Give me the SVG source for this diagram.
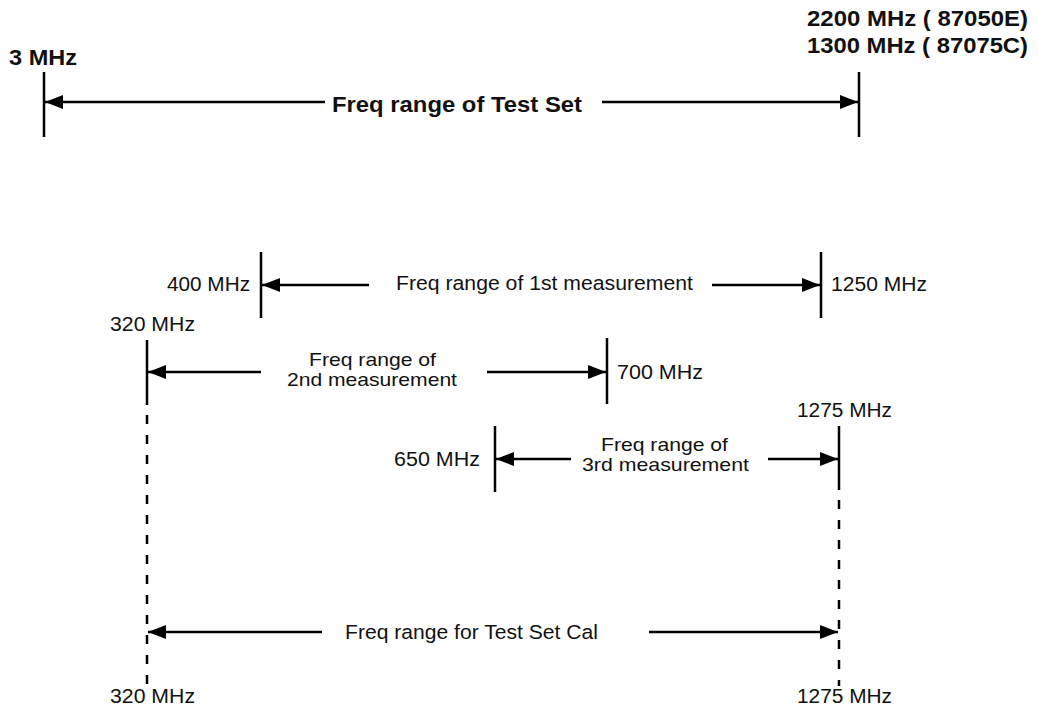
<svg xmlns="http://www.w3.org/2000/svg" width="1038" height="714" viewBox="0 0 1038 714">
<defs>
<marker id="ah" markerUnits="userSpaceOnUse" markerWidth="20" markerHeight="16" refX="18" refY="8" orient="auto">
<path d="M0,1 L18,8 L0,15 Z" fill="#000"/>
</marker>
<style>
.ln{stroke:#000;stroke-width:2.5;fill:none}
.ar{stroke:#000;stroke-width:2.5;fill:none;marker-end:url(#ah)}
.ds{stroke:#000;stroke-width:2.5;fill:none;stroke-dasharray:9 11}
.b{font-family:"Liberation Sans",Arial,sans-serif;font-weight:bold;font-size:22px;fill:#111}
.r{font-family:"Liberation Sans",Arial,sans-serif;font-size:20.5px;fill:#111}
.r2{font-family:"Liberation Sans",Arial,sans-serif;font-size:19px;fill:#111}
</style>
</defs>
<rect width="1038" height="714" fill="#fff"/>
<g id="ticks">
<line class="ln" x1="44" y1="72" x2="44" y2="137"/>
<line class="ln" x1="859" y1="72" x2="859" y2="137"/>
<line class="ln" x1="261" y1="252" x2="261" y2="318"/>
<line class="ln" x1="821" y1="252" x2="821" y2="318"/>
<line class="ln" x1="147" y1="340" x2="147" y2="405"/>
<line class="ds" x1="147" y1="415" x2="147" y2="686"/>
<line class="ln" x1="607" y1="338" x2="607" y2="404"/>
<line class="ln" x1="495" y1="426" x2="495" y2="492"/>
<line class="ln" x1="839" y1="426" x2="839" y2="490"/>
<line class="ds" x1="839" y1="500" x2="839" y2="686"/>
</g>
<g id="connectors">
<line class="ar" x1="325" y1="102" x2="45" y2="102"/>
<line class="ar" x1="602" y1="102" x2="858" y2="102"/>
<line class="ar" x1="369" y1="285" x2="262" y2="285"/>
<line class="ar" x1="712" y1="285" x2="820" y2="285"/>
<line class="ar" x1="261" y1="372" x2="148" y2="372"/>
<line class="ar" x1="487" y1="372" x2="606" y2="372"/>
<line class="ar" x1="571" y1="459" x2="496" y2="459"/>
<line class="ar" x1="768" y1="459" x2="838" y2="459"/>
<line class="ar" x1="322" y1="632" x2="148" y2="632"/>
<line class="ar" x1="649" y1="632" x2="838" y2="632"/>
</g>
<g id="labels">
<text class="b" x="9" y="65" textLength="68" lengthAdjust="spacingAndGlyphs">3 MHz</text>
<text class="b" x="807" y="26" textLength="221" lengthAdjust="spacingAndGlyphs">2200 MHz ( 87050E)</text>
<text class="b" x="807" y="53" textLength="221" lengthAdjust="spacingAndGlyphs">1300 MHz ( 87075C)</text>
<text class="b" x="332" y="112" textLength="250" lengthAdjust="spacingAndGlyphs">Freq range of Test Set</text>
<text class="r" x="167" y="291" textLength="83" lengthAdjust="spacingAndGlyphs">400 MHz</text>
<text class="r" x="396" y="290" textLength="297" lengthAdjust="spacingAndGlyphs">Freq range of 1st measurement</text>
<text class="r" x="831" y="291" textLength="96" lengthAdjust="spacingAndGlyphs">1250 MHz</text>
<text class="r" x="110" y="331" textLength="85" lengthAdjust="spacingAndGlyphs">320 MHz</text>
<text class="r2" x="309" y="366" textLength="127" lengthAdjust="spacingAndGlyphs">Freq range of</text>
<text class="r2" x="287" y="386" textLength="170" lengthAdjust="spacingAndGlyphs">2nd measurement</text>
<text class="r" x="617" y="379" textLength="86" lengthAdjust="spacingAndGlyphs">700 MHz</text>
<text class="r" x="797" y="417" textLength="95" lengthAdjust="spacingAndGlyphs">1275 MHz</text>
<text class="r" x="394" y="466" textLength="86" lengthAdjust="spacingAndGlyphs">650 MHz</text>
<text class="r2" x="601" y="451" textLength="127" lengthAdjust="spacingAndGlyphs">Freq range of</text>
<text class="r2" x="582" y="471" textLength="167" lengthAdjust="spacingAndGlyphs">3rd measurement</text>
<text class="r" x="345" y="639" textLength="253" lengthAdjust="spacingAndGlyphs">Freq range for Test Set Cal</text>
<text class="r" x="110" y="703" textLength="85" lengthAdjust="spacingAndGlyphs">320 MHz</text>
<text class="r" x="797" y="703" textLength="95" lengthAdjust="spacingAndGlyphs">1275 MHz</text>
</g>
</svg>
